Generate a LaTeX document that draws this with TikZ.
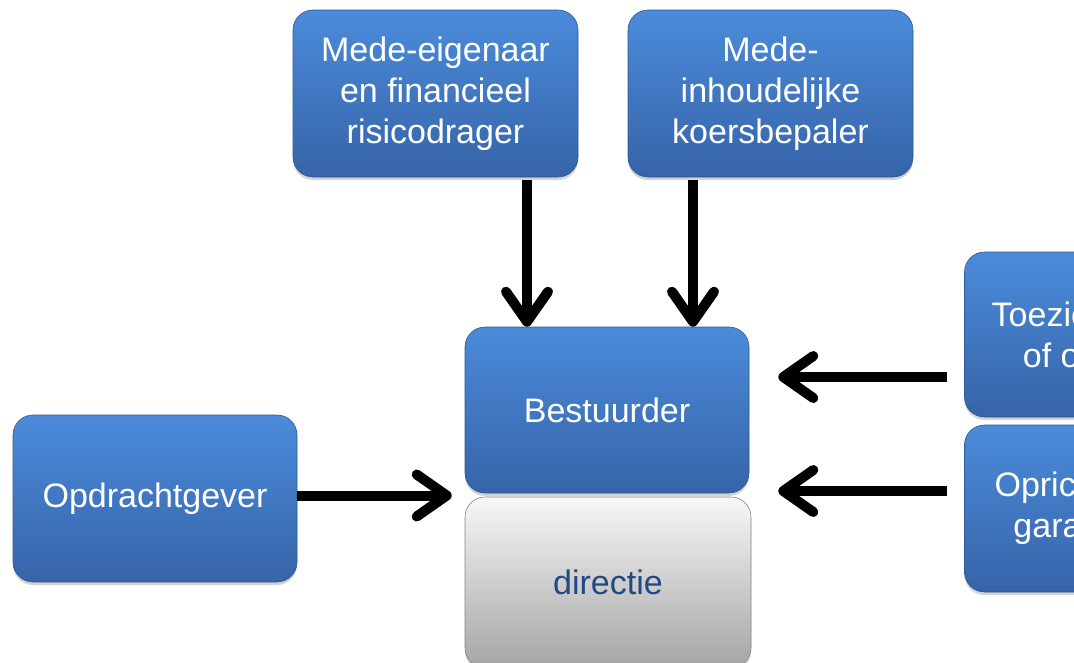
\documentclass[tikz,border=0pt]{standalone}
\usepackage{fontspec}
\setmainfont{Liberation Sans}
\usetikzlibrary{arrows.meta,calc,shadows}

\definecolor{bluetop}{HTML}{4B8BDA}
\definecolor{bluebot}{HTML}{3664A8}
\definecolor{blueedge}{HTML}{2F5894}
\definecolor{greytop}{HTML}{F7F7F7}
\definecolor{greybot}{HTML}{A5A5A5}
\definecolor{dirtext}{HTML}{1F4A85}

\tikzset{
  rolebox/.style={rounded corners=20pt, top color=bluetop, bottom color=bluebot,
    draw=blueedge, line width=0.6pt, text=white, align=center,
    font=\fontsize{34}{41}\selectfont, minimum width=285pt, minimum height=167pt,
    inner sep=0pt,
    drop shadow={shadow xshift=0pt, shadow yshift=-3pt, opacity=0.35}},
  greybox/.style={rolebox, top color=greytop, bottom color=greybot,
    draw=greybot!80!black, text=dirtext},
  arr/.style={line width=10pt, -{Straight Barb[length=30pt,width=42pt,round]}},
}

\begin{document}
\begin{tikzpicture}[x=1pt,y=-1pt]
  \useasboundingbox (0,0) rectangle (1074,662);
  \clip (0,0) rectangle (1074,662);

  % boxes
  \node[rolebox] (eigenaar) at (435.5,93.5) {Mede-eigenaar\\en financieel\\risicodrager};
  \node[rolebox] (koers) at (770.5,93.5) {Mede-\\inhoudelijke\\koersbepaler};
  \node[rolebox, minimum width=284pt, minimum height=166pt] (best) at (607,410) {Bestuurder};
  \node[greybox, minimum width=286pt, minimum height=171pt] (dir) at (608,582.5) {directie};
  \node[rolebox, minimum width=284pt] (opdr) at (155,498.5) {Opdrachtgever};
  \node[rolebox, minimum height=165pt] (toez) at (1107,334.5) {Toezichthouder\\of overheid};
  \node[rolebox] (opr) at (1107,508.5) {Oprichter en/of\\garantsteller};

  % rows for the arrows coming in from the right
  \coordinate (rowA) at (0,377);
  \coordinate (rowB) at (0,491);

  % connectors
  \draw[arr] ($(eigenaar.south -| best.north)+(-80,3)$) -- ($(best.north)+(-80,0)$);
  \draw[arr] ($(koers.south -| best.north)+(86,3)$) -- ($(best.north)+(86,0)$);
  \draw[arr] ($(opdr.east)+(0,-3)$) -- ($(opdr.east -| best.west)+(-13,-3)$);
  \draw[arr] ($(toez.west |- rowA)+(-17,0)$) -- ($(best.east |- rowA)+(29,0)$);
  \draw[arr] ($(opr.west |- rowB)+(-17,0)$) -- ($(best.east |- rowB)+(29,0)$);
\end{tikzpicture}
\end{document}
